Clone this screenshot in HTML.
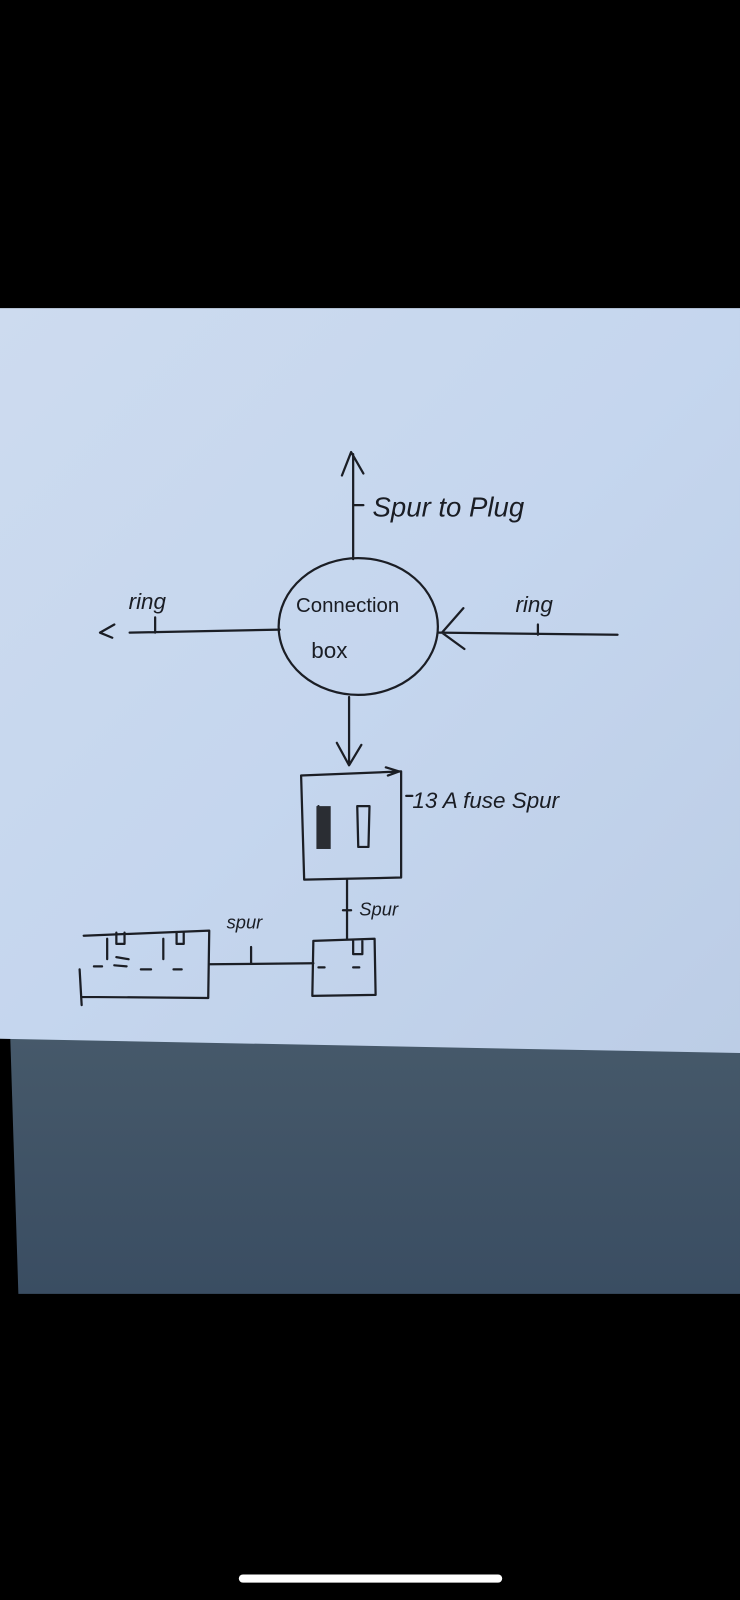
<!DOCTYPE html>
<html><head><meta charset="utf-8"><style>
html,body{margin:0;padding:0;background:#000;width:740px;height:1600px;overflow:hidden}
svg{display:block}
text{font-family:"Liberation Sans",sans-serif;fill:#1a1d24}
</style></head><body>
<svg width="740" height="1600" viewBox="0 0 725 1568" preserveAspectRatio="none" xmlns="http://www.w3.org/2000/svg">
<defs>
<linearGradient id="pg" x1="0" y1="0" x2="1" y2="1">
<stop offset="0" stop-color="#cddbef"/><stop offset="0.5" stop-color="#c5d6ee"/><stop offset="1" stop-color="#bccde6"/>
</linearGradient>
<linearGradient id="jg" x1="0" y1="0" x2="0" y2="1">
<stop offset="0" stop-color="#46596a"/><stop offset="1" stop-color="#3a4d62"/>
</linearGradient>
</defs>
<rect width="725" height="1568" fill="#000"/>
<path d="M10 1015 L725 1025 L725 1268 L18 1268 Z" fill="url(#jg)"/>
<path d="M0 302 L725 302 L725 1032 L0 1018 Z" fill="url(#pg)"/>
<rect x="234" y="1543" width="258" height="8" rx="4" fill="#fff"/>
<g stroke="#1b1e25" stroke-width="2.2" fill="none" stroke-linecap="round" stroke-linejoin="round">
<ellipse cx="351" cy="614" rx="78" ry="67"/>
<path d="M346 548 L346 445 M335 466 L344 443 L356 464"/>
<path d="M347 495 L356 495"/>
<path d="M274 617 L127 620 M112 612 L98 620 L110 625 M152 605 L152 620"/>
<path d="M430 620 L605 622 M454 596 L433 620 L455 636 M527 612 L527 622"/>
<path d="M342 683 L342 748 M330 728 L342 750 L354 730"/>
<path d="M295 760 L393 756 L393 860 L298 862 Z M378 752 L391 756 L380 760"/>
<path d="M312 790 L312 830 M350 790 L362 790 L361 830 L351 830 Z"/>
<path d="M398 780 L404 780"/>
<path d="M340 862 L340 920 M336 892 L344 892"/>
<path d="M307 922 L367 920 L368 975 L306 976 Z M346 922 L346 935 L355 935 L355 922"/>
<path d="M205 945 L307 944 M246 928 L246 944"/>
<path d="M82 917 L205 912 L204 978 L80 977 M78 950 L80 985"/>
<path d="M105 920 L105 940 M114 914 L114 925 L122 925 L122 914 M160 920 L160 940 M173 914 L173 925 L180 925 L180 914"/>
<path d="M92 947 L100 947 M114 938 L126 940 M112 946 L124 947 M138 950 L148 950 M170 950 L178 950 M312 948 L318 948 M346 948 L352 948"/>
</g>
<rect x="310" y="790" width="14" height="42" fill="#2a2d33"/>
<text x="365" y="506" font-size="27" font-style="italic">Spur to Plug</text>
<text x="290" y="600" font-size="20">Connection</text>
<text x="305" y="645" font-size="22">box</text>
<text x="126" y="597" font-size="22" font-style="italic">ring</text>
<text x="505" y="600" font-size="22" font-style="italic">ring</text>
<text x="404" y="792" font-size="22" font-style="italic">13 A  fuse Spur</text>
<text x="352" y="897" font-size="18" font-style="italic">Spur</text>
<text x="222" y="910" font-size="18" font-style="italic">spur</text>
</svg>
</body></html>
